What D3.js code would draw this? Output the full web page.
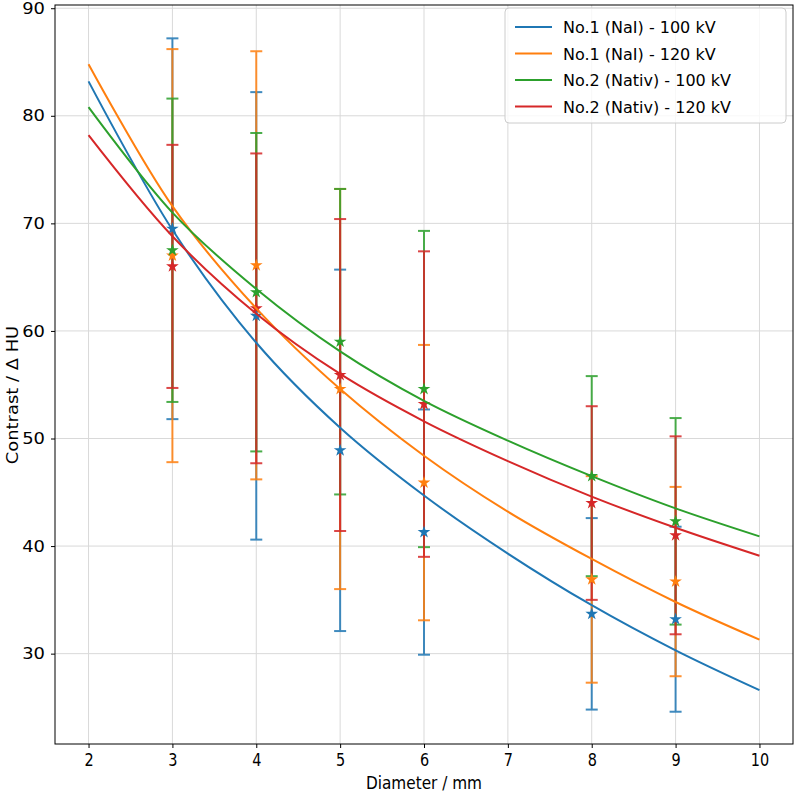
<!DOCTYPE html>
<html><head><meta charset="utf-8">
<script src="https://cdn.jsdelivr.net/npm/d3@7"></script>
<style>body{margin:0;background:#fff}svg{display:block}text{font-family:"DejaVu Sans",sans-serif}</style>
</head><body>
<script>
const xTicks = [2,3,4,5,6,7,8,9,10];
const yTicks = [30,40,50,60,70,80,90];
const seriesNames = ["No.1 (NaI) - 100 kV","No.1 (NaI) - 120 kV","No.2 (Nativ) - 100 kV","No.2 (Nativ) - 120 kV"];
const colors = ["#1f77b4","#ff7f0e","#2ca02c","#d62728"];
// fitted curves read at diameters
const curveX = [2,3,4,5,6,7,8,9,10];
const fitNaI100 = [83.2,69.4,58.9,51.0,44.7,39.3,34.5,30.3,26.6];
const fitNaI120 = [84.8,71.6,62.1,54.6,48.4,43.2,38.8,34.8,31.3];
const fitNat100 = [80.8,71.0,63.9,58.1,53.5,49.8,46.5,43.5,40.9];
const fitNat120 = [78.2,68.8,61.6,56.0,51.6,47.9,44.6,41.7,39.1];
// measurements
const measX = [3,4,5,6,8,9];
const meanNaI100 = [69.5,61.4,48.9,41.3,33.7,33.2];
const errNaI100  = [17.7,20.8,16.8,11.4,8.9,8.6];
const meanNaI120 = [67.0,66.1,54.6,45.9,36.9,36.7];
const errNaI120  = [19.2,19.9,18.6,12.8,9.6,8.8];
const meanNat100 = [67.5,63.6,59.0,54.6,46.5,42.3];
const errNat100  = [14.1,14.8,14.2,14.7,9.3,9.6];
const meanNat120 = [66.0,62.1,55.9,53.2,44.0,41.0];
const errNat120  = [11.3,14.4,14.5,14.2,9.0,9.2];

const fits = [fitNaI100,fitNaI120,fitNat100,fitNat120];
const means = [meanNaI100,meanNaI120,meanNat100,meanNat120];
const errs = [errNaI100,errNaI120,errNat100,errNat120];

const W=795,H=795;
const L=55,R=793,T=5,B=744;
const svg=d3.select("body").append("svg").attr("width",W).attr("height",H);
const x=d3.scaleLinear().domain([1.6,10.4]).range([L,R]);
const y=d3.scaleLinear().domain([21.6,90.3]).range([B,T]);

// grid
svg.append("g").selectAll("line").data(xTicks).join("line")
  .attr("x1",d=>x(d)).attr("x2",d=>x(d)).attr("y1",T).attr("y2",B)
  .attr("stroke","#d9d9d9").attr("stroke-width",1);
svg.append("g").selectAll("line").data(yTicks).join("line")
  .attr("x1",L).attr("x2",R).attr("y1",d=>y(d)).attr("y2",d=>y(d))
  .attr("stroke","#d9d9d9").attr("stroke-width",1);

// axes
const xAxis=d3.axisBottom(x).tickValues(xTicks).tickSize(4).tickPadding(6).tickFormat(d3.format("d"));
const yAxis=d3.axisLeft(y).tickValues(yTicks).tickSize(4).tickPadding(6).tickFormat(d3.format("d"));
const gx=svg.append("g").attr("transform",`translate(0,${B})`).call(xAxis);
const gy=svg.append("g").attr("transform",`translate(${L},0)`).call(yAxis);
[gx,gy].forEach(g=>{g.select(".domain").remove();g.selectAll("text").attr("fill","#000").attr("font-family","DejaVu Sans");g.selectAll("line").attr("stroke","#000");});
gx.selectAll("text").attr("font-size",17).attr("transform","scale(0.85,1)");
gy.selectAll("text").attr("font-size",16).attr("x",-10/1.12).attr("transform","scale(1.12,1)");

// error bars
const capW=6;
means.forEach((m,si)=>{
  const g=svg.append("g").attr("stroke",colors[si]).attr("stroke-width",2).attr("opacity",0.85);
  measX.forEach((xv,i)=>{
    const lo=m[i]-errs[si][i], hi=m[i]+errs[si][i];
    g.append("line").attr("x1",x(xv)).attr("x2",x(xv)).attr("y1",y(lo)).attr("y2",y(hi));
    g.append("line").attr("x1",x(xv)-capW).attr("x2",x(xv)+capW).attr("y1",y(lo)).attr("y2",y(lo));
    g.append("line").attr("x1",x(xv)-capW).attr("x2",x(xv)+capW).attr("y1",y(hi)).attr("y2",y(hi));
  });
});
// markers
const star=d3.symbol().type(d3.symbolStar).size(50);
means.forEach((m,si)=>{
  svg.append("g").selectAll("path").data(measX).join("path")
    .attr("d",star).attr("transform",(d,i)=>`translate(${x(d)},${y(m[i])})`)
    .attr("fill",colors[si]);
});
// curves
const line=d3.line().x((d,i)=>x(curveX[i])).y(d=>y(d)).curve(d3.curveCatmullRom.alpha(0.5));
fits.forEach((f,si)=>{
  svg.append("path").datum(f).attr("d",line).attr("fill","none").attr("stroke",colors[si]).attr("stroke-width",2);
});

// frame
svg.append("rect").attr("x",L).attr("y",T).attr("width",R-L).attr("height",B-T)
  .attr("fill","none").attr("stroke","#000").attr("stroke-width",1);

// labels
svg.append("text").attr("x",(L+R)/2).attr("y",789).attr("text-anchor","middle").attr("font-size",17)
  .attr("transform",`translate(${(L+R)/2},0) scale(0.9,1) translate(${-(L+R)/2},0)`).text("Diameter / mm");
svg.append("text").attr("transform",`translate(18,395) rotate(-90) scale(1.12,1)`).attr("text-anchor","middle").attr("font-size",16).text("Contrast / Δ HU");

// legend
const lg=svg.append("g");
lg.append("rect").attr("x",505).attr("y",8).attr("width",281).attr("height",115).attr("rx",4)
  .attr("fill","#fff").attr("fill-opacity",0.8).attr("stroke","#cccccc");
seriesNames.forEach((n,i)=>{
  const yy=27+i*26.5;
  lg.append("line").attr("x1",515).attr("x2",552).attr("y1",yy).attr("y2",yy).attr("stroke",colors[i]).attr("stroke-width",2);
  lg.append("text").attr("x",563).attr("y",yy+6).attr("font-size",16).text(n);
});
</script>
</body></html>
